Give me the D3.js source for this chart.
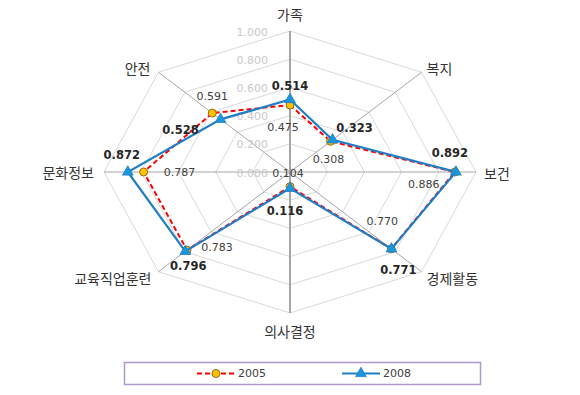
<!DOCTYPE html>
<html>
<head>
<meta charset="utf-8">
<script src="https://cdn.jsdelivr.net/npm/d3@7"></script>
<style>
  html, body { margin: 0; padding: 0; background: #fff; }
  svg { display: block; }
</style>
</head>
<body>
<svg id="chart" width="580" height="395"></svg>
<script>
// ---- data ----
const categories = ["가족", "복지", "보건", "경제활동", "의사결정", "교육직업훈련", "문화정보", "안전"];
const values2005 = [0.475, 0.308, 0.886, 0.770, 0.104, 0.783, 0.787, 0.591];
const values2008 = [0.514, 0.323, 0.892, 0.771, 0.116, 0.796, 0.872, 0.528];
const seriesNames = ["2005", "2008"];
const tickValues = [0, 0.2, 0.4, 0.6, 0.8, 1.0];

// ---- layout / style (not data) ----
const cx = 290, cy = 172;
const catLabelLayout = [
  {anchor: "middle", dx: 0, dy: -17},
  {anchor: "start", dx: 5, dy: -4},
  {anchor: "start", dx: 8, dy: 1},
  {anchor: "start", dx: 5, dy: 6},
  {anchor: "middle", dx: 0, dy: 18},
  {anchor: "end", dx: -7, dy: 6},
  {anchor: "end", dx: -10, dy: 0},
  {anchor: "end", dx: -8, dy: -4}
];
const labelOffsets2005 = [[-7, 22], [-2, 18], [-31, 12], [-9, -27], [-2, -13], [30, -3], [36, 0], [0, -17]];
const labelOffsets2008 = [[0, -14], [22, -12], [-6, -19], [7, 21], [-5, 23], [3, 15], [-6, -17], [-40, 11]];

const svg = d3.select("#chart");

const angle = d3.scalePoint().domain(categories).range([0, 2 * Math.PI * (categories.length - 1) / categories.length]);
const rx = d3.scaleLinear().domain([0, 1]).range([0, 186]);
const ry = d3.scaleLinear().domain([0, 1]).range([0, 141]);
const proj = (cat, v) => {
  const a = angle(cat);
  return [cx + rx(v) * Math.sin(a), cy - ry(v) * Math.cos(a)];
};

// grid octagons
const gridG = svg.append("g");
tickValues.filter(t => t > 0).forEach(t => {
  gridG.append("path")
    .attr("d", d3.line().curve(d3.curveLinearClosed)(categories.map(c => proj(c, t))))
    .attr("fill", "none")
    .attr("stroke", "#d9d9d9")
    .attr("stroke-width", 1);
});

// spokes
categories.forEach((c, i) => {
  const [x, y] = proj(c, 1);
  gridG.append("line")
    .attr("x1", cx).attr("y1", cy).attr("x2", x).attr("y2", y)
    .attr("stroke", "#a6a6a6")
    .attr("stroke-width", i === 0 || i === 4 ? 2 : 1);
});

// tick labels
const fmt = d3.format(".3f");
svg.append("g").selectAll("text").data(tickValues).join("text")
  .attr("x", cx - 22)
  .attr("y", d => cy - ry(d) + 1)
  .attr("text-anchor", "end")
  .attr("dominant-baseline", "central")
  .attr("font-family", "DejaVu Sans, Verdana, sans-serif")
  .attr("font-size", 11)
  .attr("fill", "#c8c8c8")
  .text(d => fmt(d));

// category labels
svg.append("g").selectAll("text").data(categories).join("text")
  .attr("x", (d, i) => proj(d, 1)[0] + catLabelLayout[i].dx)
  .attr("y", (d, i) => proj(d, 1)[1] + catLabelLayout[i].dy)
  .attr("text-anchor", (d, i) => catLabelLayout[i].anchor)
  .attr("dominant-baseline", "central")
  .attr("font-family", "Noto Sans CJK KR, sans-serif")
  .attr("font-size", 14)
  .attr("fill", "#333333")
  .text(d => d);

const lineGen = d3.line().curve(d3.curveLinearClosed);

const pts2005 = categories.map((c, i) => proj(c, values2005[i]));
const pts2008 = categories.map((c, i) => proj(c, values2008[i]));

// 2005 series
svg.append("path")
  .attr("d", lineGen(pts2005))
  .attr("fill", "none")
  .attr("stroke", "#ff0000")
  .attr("stroke-width", 2)
  .attr("stroke-dasharray", "5,3");

svg.append("g").selectAll("circle").data(pts2005).join("circle")
  .attr("cx", d => d[0]).attr("cy", d => d[1])
  .attr("r", 4)
  .attr("fill", "#ffc000")
  .attr("stroke", "#8a7020")
  .attr("stroke-width", 1);

// 2008 series
svg.append("path")
  .attr("d", lineGen(pts2008))
  .attr("fill", "none")
  .attr("stroke", "#1f7ec4")
  .attr("stroke-width", 2.2);

const tri = d3.symbol().type(d3.symbolTriangle).size(50);
svg.append("g").selectAll("path").data(pts2008).join("path")
  .attr("transform", d => `translate(${d[0]},${d[1]})`)
  .attr("d", tri)
  .attr("fill", "#1a96dc")
  .attr("stroke", "#1f7ec4")
  .attr("stroke-width", 0.8);

// data labels
svg.append("g").selectAll("text").data(values2005).join("text")
  .attr("x", (d, i) => pts2005[i][0] + labelOffsets2005[i][0])
  .attr("y", (d, i) => pts2005[i][1] + labelOffsets2005[i][1])
  .attr("text-anchor", "middle")
  .attr("dominant-baseline", "central")
  .attr("font-family", "DejaVu Sans, Verdana, sans-serif")
  .attr("font-size", 11)
  .attr("fill", "#404040")
  .text(d => fmt(d));

svg.append("g").selectAll("text").data(values2008).join("text")
  .attr("x", (d, i) => pts2008[i][0] + labelOffsets2008[i][0])
  .attr("y", (d, i) => pts2008[i][1] + labelOffsets2008[i][1])
  .attr("text-anchor", "middle")
  .attr("dominant-baseline", "central")
  .attr("font-family", "DejaVu Sans, Verdana, sans-serif")
  .attr("font-weight", "bold")
  .attr("font-size", 11.5)
  .attr("fill", "#262626")
  .text(d => fmt(d));

// legend
const lg = svg.append("g");
lg.append("rect")
  .attr("x", 124.5).attr("y", 362.5).attr("width", 356).attr("height", 22)
  .attr("fill", "#fff")
  .attr("stroke", "#ae98cc")
  .attr("stroke-width", 1.5);
const legendItems = [
  {name: seriesNames[0], x: 197, color: "#ff0000", dash: "5,3", marker: "circle"},
  {name: seriesNames[1], x: 342, color: "#1f7ec4", dash: null, marker: "triangle"}
];
legendItems.forEach(it => {
  const ly = 373.5;
  lg.append("line")
    .attr("x1", it.x).attr("x2", it.x + 38).attr("y1", ly).attr("y2", ly)
    .attr("stroke", it.color).attr("stroke-width", 2)
    .attr("stroke-dasharray", it.dash);
  if (it.marker === "circle") {
    lg.append("circle").attr("cx", it.x + 19).attr("cy", ly).attr("r", 4)
      .attr("fill", "#ffc000").attr("stroke", "#8a7020").attr("stroke-width", 1);
  } else {
    lg.append("path").attr("transform", `translate(${it.x + 19},${ly})`)
      .attr("d", tri).attr("fill", "#1a96dc").attr("stroke", "#1f7ec4").attr("stroke-width", 0.8);
  }
  lg.append("text")
    .attr("x", it.x + 41).attr("y", ly)
    .attr("dominant-baseline", "central")
    .attr("font-family", "DejaVu Sans, Verdana, sans-serif")
    .attr("font-size", 11)
    .attr("fill", "#404040")
    .text(it.name);
});
</script>
</body>
</html>
